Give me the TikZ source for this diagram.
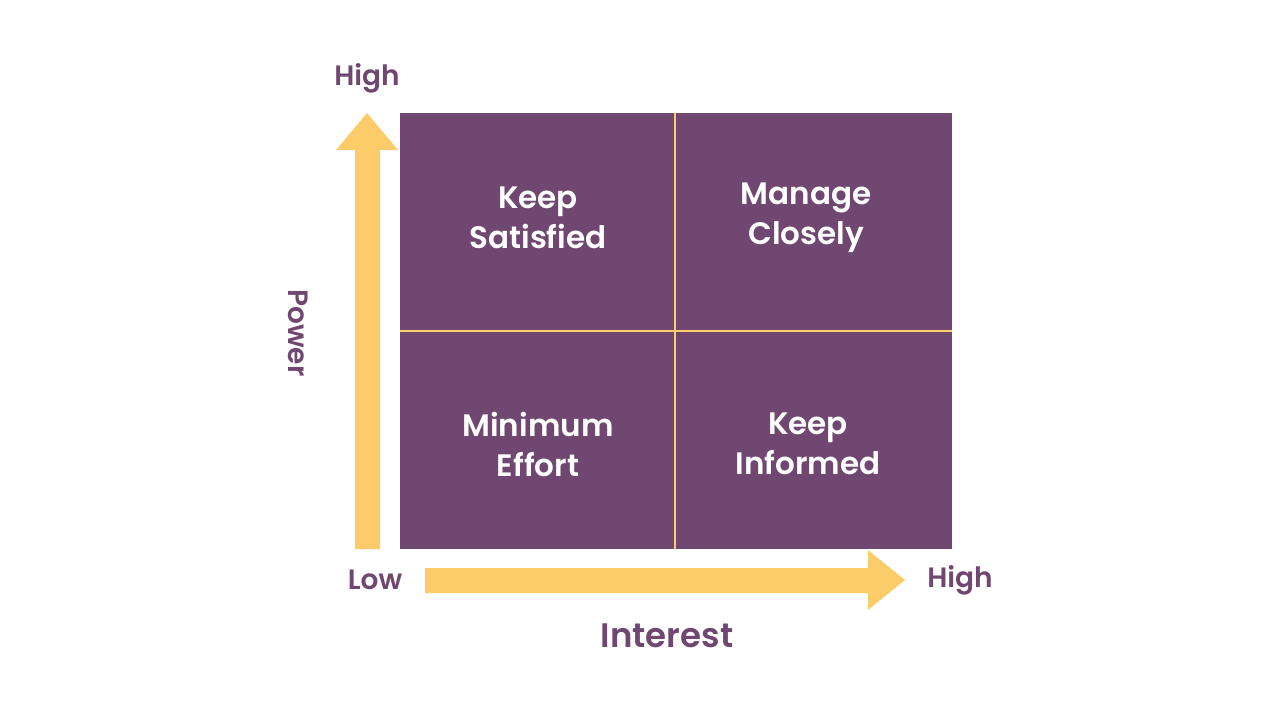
\documentclass[tikz,border=0pt]{standalone}
\usepackage{fontspec}
\setmainfont{Poppins}[BoldFont={* SemiBold}]
\begin{document}
\definecolor{pur}{HTML}{6F4770}
\definecolor{yel}{HTML}{FCCB6A}
\begin{tikzpicture}[x=1pt,y=-1pt,
  quad/.style={text=white,font=\fontsize{31}{40}\selectfont\bfseries,align=center},
  lab/.style={text=pur,font=\fontsize{28}{32}\selectfont\bfseries}]
\useasboundingbox (0,0) rectangle (1280,720);
\fill[pur] (400,113) rectangle (952,549);
\draw[yel,line width=2.5pt] (675,113) -- (675,549) (400,331) -- (952,331);
\fill[yel] (355,549) -- (355,150) -- (336,150) -- (367,113) -- (398,150) -- (380,150) -- (380,549) -- cycle;
\fill[yel] (425,568) -- (868,568) -- (868,550) -- (905,580) -- (868,610) -- (868,593) -- (425,593) -- cycle;
\node[quad] (ks) at (538,218) {Keep\\Satisfied};
\node[quad] (mc) at (806,218) {Manage\\Closely};
\node[quad] (me) at (538,444) {Minimum\\Effort};
\node[quad] (ki) at (808,444) {Keep\\Informed};
\node[lab] (hp) at (367,78) {High};
\node[lab,rotate=-90] (pw) at (298,333) {Power};
\node[lab] (lo) at (375,580) {Low};
\node[lab] (hi) at (960,580) {High};
\node[lab,font=\fontsize{34}{40}\selectfont\bfseries] (in) at (667,636) {Interest};
\end{tikzpicture}
\end{document}
